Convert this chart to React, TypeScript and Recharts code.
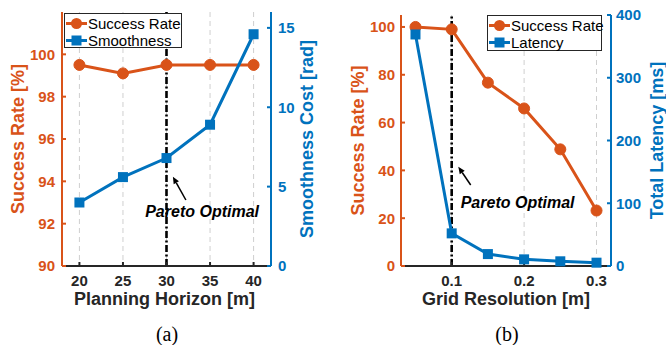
import React from "react";
import {
  LineChart,
  Line,
  XAxis,
  YAxis,
  CartesianGrid,
  ReferenceLine,
  Legend,
} from "recharts";

// (a) planning horizon sweep
const horizons = [20, 25, 30, 35, 40];
const horizonSuccess = [99.5, 99.1, 99.5, 99.5, 99.5];
const horizonSmoothness = [4.0, 5.6, 6.8, 8.9, 14.6];
const horizonTicks = [20, 25, 30, 35, 40];
const successTicksA = [90, 92, 94, 96, 98, 100];
const smoothTicks = [0, 5, 10, 15];

// (b) grid resolution sweep
const resolutions = [0.05, 0.1, 0.15, 0.2, 0.25, 0.3];
const resolutionSuccess = [100, 99.0, 76.7, 65.9, 48.8, 23.2];
const resolutionLatency = [369, 52, 19, 10.6, 7.5, 5.3];
const resolutionTicks = [0.1, 0.2, 0.3];
const successTicksB = [0, 20, 40, 60, 80, 100];
const latencyTicks = [0, 100, 200, 300, 400];

const ORANGE = "#D95319";
const BLUE = "#0072BD";
const DARK = "#262626";
const FONT = "'Liberation Sans', Arial, Helvetica, sans-serif";

const dataA = horizons.map((h, i) => ({
  x: h,
  success: horizonSuccess[i],
  smooth: horizonSmoothness[i],
}));

const dataB = resolutions.map((r, i) => ({
  x: r,
  success: resolutionSuccess[i],
  latency: resolutionLatency[i],
}));

const squareDot = (props: any) => {
  const { cx, cy, index } = props;
  return (
    <rect key={`sq-${index}`} x={cx - 5} y={cy - 5} width={10} height={10} fill={BLUE} />
  );
};

// legend box, rows with line + marker sample
function legendBox(second: string, width: number, height: number) {
  return () => (
    <div
      style={{
        width,
        height,
        boxSizing: "border-box",
        border: "1px solid #262626",
        background: "#fff",
        fontFamily: FONT,
        fontSize: 15,
        color: "#000",
        paddingTop: 1,
      }}
    >
      {[
        { name: "Success Rate", color: ORANGE, shape: "circle" },
        { name: second, color: BLUE, shape: "square" },
      ].map((e) => (
        <div key={e.name} style={{ display: "flex", alignItems: "center", height: 17 }}>
          <svg width={23} height={17} style={{ flex: "none" }}>
            <line x1={1} y1={8.5} x2={22} y2={8.5} stroke={e.color} strokeWidth={3} />
            {e.shape === "circle" ? (
              <circle cx={11.5} cy={8.5} r={5.5} fill={e.color} />
            ) : (
              <rect x={6.5} y={3.5} width={10} height={10} fill={e.color} />
            )}
          </svg>
          <span style={{ lineHeight: "17px", whiteSpace: "nowrap" }}>{e.name}</span>
        </div>
      ))}
    </div>
  );
}

// rotated y-axis title
function yTitle(text: string, color: string, dx: number) {
  return (props: any) => {
    const vb = props.viewBox;
    const cx = vb.x + dx;
    const cy = vb.y + vb.height / 2;
    return (
      <text
        x={cx}
        y={cy}
        transform={`rotate(-90, ${cx}, ${cy})`}
        textAnchor="middle"
        dominantBaseline="central"
        fill={color}
        fontSize={18}
        fontWeight="bold"
        fontFamily={FONT}
      >
        {text}
      </text>
    );
  };
}

function xTitle(text: string, dx: number, baseline: number) {
  return (props: any) => {
    const vb = props.viewBox;
    return (
      <text
        x={vb.x + vb.width / 2 + dx}
        y={vb.y + baseline}
        textAnchor="middle"
        fill={DARK}
        fontSize={18}
        fontWeight="bold"
        fontFamily={FONT}
      >
        {text}
      </text>
    );
  };
}

// "Pareto Optimal" note with arrow, placed relative to the reference line
function paretoNote(tip: [number, number], tail: [number, number], text: [number, number]) {
  return (props: any) => {
    const vb = props.viewBox;
    const tx = vb.x + tip[0];
    const ty = vb.y + tip[1];
    const sx = vb.x + tail[0];
    const sy = vb.y + tail[1];
    const len = Math.hypot(tx - sx, ty - sy);
    const ux = (tx - sx) / len;
    const uy = (ty - sy) / len;
    const L = 7;
    const W = 3;
    const bx = tx - ux * L;
    const by = ty - uy * L;
    const pts = `${tx},${ty} ${bx - uy * W},${by + ux * W} ${bx + uy * W},${by - ux * W}`;
    return (
      <g>
        <line x1={sx} y1={sy} x2={bx} y2={by} stroke="#000" strokeWidth={1.5} />
        <polygon points={pts} fill="#000" />
        <text
          x={vb.x + text[0]}
          y={vb.y + text[1]}
          fontSize={16}
          fontWeight="bold"
          fontStyle="italic"
          fontFamily={FONT}
          fill="#000"
        >
          Pareto Optimal
        </text>
      </g>
    );
  };
}

const axisTick = (color: string) => ({
  fill: color,
  fontSize: 15,
  fontWeight: "bold" as const,
  fontFamily: FONT,
});

const captionStyle = {
  position: "absolute" as const,
  top: 322,
  width: 100,
  textAlign: "center" as const,
  fontFamily: "'Liberation Serif', 'Times New Roman', serif",
  fontSize: 20,
  lineHeight: "24px",
};

export default function App() {
  return (
    <div
      style={{
        position: "absolute",
        left: 0,
        top: 0,
        width: 666,
        height: 345,
        background: "#fff",
        overflow: "hidden",
      }}
    >
      <div style={{ position: "absolute", left: 0, top: 0 }}>
        <LineChart
          width={333}
          height={310}
          data={dataA}
          margin={{ top: 12, right: 0, bottom: 0, left: 0 }}
        >
          <CartesianGrid
            horizontal={false}
            stroke="#cfcfcf"
            strokeDasharray="5 4"
            yAxisId="left"
          />
          <XAxis
            dataKey="x"
            type="number"
            domain={[18, 42]}
            ticks={horizonTicks}
            interval={0}
            height={44}
            stroke={DARK}
            strokeWidth={2}
            tickSize={-4}
            tickMargin={13.5}
            tick={axisTick(DARK)}
            label={xTitle("Planning Horizon [m]", -2, 39)}
          />
          <YAxis
            yAxisId="left"
            domain={[90, 102]}
            ticks={successTicksA}
            interval={0}
            width={62}
            stroke={ORANGE}
            strokeWidth={2}
            tickSize={-4}
            tickMargin={11}
            tick={axisTick(ORANGE)}
            label={yTitle("Success Rate [%]", ORANGE, 18)}
          />
          <YAxis
            yAxisId="right"
            orientation="right"
            domain={[0, 16]}
            ticks={smoothTicks}
            interval={0}
            width={62}
            stroke={BLUE}
            strokeWidth={2}
            tickSize={-4}
            tickMargin={11}
            tick={axisTick(BLUE)}
            label={yTitle("Smoothness Cost [rad]", BLUE, 36)}
          />
          <ReferenceLine
            yAxisId="left"
            x={30}
            stroke="#000"
            strokeWidth={2.6}
            strokeDasharray="7 2.5 2 2.5"
            label={paretoNote([6.4, 164.7], [19.4, 188], [-21.3, 204.7])}
          />
          <Legend
            layout="horizontal"
            verticalAlign="middle"
            align="center"
            content={legendBox("Smoothness", 118, 35)}
            wrapperStyle={{ left: 64, top: 13, width: 118, height: 35 }}
          />
          <Line
            yAxisId="left"
            dataKey="success"
            stroke={ORANGE}
            strokeWidth={3}
            dot={{ r: 5.5, fill: ORANGE, stroke: ORANGE, strokeWidth: 1 }}
            activeDot={false}
            isAnimationActive={false}
          />
          <Line
            yAxisId="right"
            dataKey="smooth"
            stroke={BLUE}
            strokeWidth={3}
            dot={squareDot}
            activeDot={false}
            isAnimationActive={false}
          />
        </LineChart>
      </div>

      <div style={{ position: "absolute", left: 333, top: 0 }}>
        <LineChart
          width={333}
          height={310}
          data={dataB}
          margin={{ top: 15, right: 0, bottom: 0, left: 0 }}
        >
          <CartesianGrid
            horizontal={false}
            stroke="#cfcfcf"
            strokeDasharray="5 4"
            yAxisId="left"
          />
          <XAxis
            dataKey="x"
            type="number"
            domain={[0.03, 0.32]}
            ticks={resolutionTicks}
            interval={0}
            height={44}
            stroke={DARK}
            strokeWidth={2}
            tickSize={-4}
            tickMargin={13.5}
            tick={axisTick(DARK)}
            label={xTitle("Grid Resolution [m]", 0, 39)}
          />
          <YAxis
            yAxisId="left"
            domain={[0, 105]}
            ticks={successTicksB}
            interval={0}
            width={68}
            stroke={ORANGE}
            strokeWidth={2}
            tickSize={-4}
            tickMargin={10}
            tick={axisTick(ORANGE)}
            label={yTitle("Success Rate [%]", ORANGE, 25)}
          />
          <YAxis
            yAxisId="right"
            orientation="right"
            domain={[0, 400]}
            ticks={latencyTicks}
            interval={0}
            width={55}
            stroke={BLUE}
            strokeWidth={2}
            tickSize={-4}
            tickMargin={9}
            tick={axisTick(BLUE)}
            label={yTitle("Total Latency [ms]", BLUE, 45.5)}
          />
          <ReferenceLine
            yAxisId="left"
            x={0.1}
            stroke="#000"
            strokeWidth={2.6}
            strokeDasharray="7 2.5 2 2.5"
            label={paretoNote([6.6, 151.7], [19, 170], [9, 193])}
          />
          <Legend
            layout="horizontal"
            verticalAlign="middle"
            align="center"
            content={legendBox("Latency", 115, 36)}
            wrapperStyle={{ left: 154, top: 15, width: 115, height: 36 }}
          />
          <Line
            yAxisId="left"
            dataKey="success"
            stroke={ORANGE}
            strokeWidth={3}
            dot={{ r: 5.5, fill: ORANGE, stroke: ORANGE, strokeWidth: 1 }}
            activeDot={false}
            isAnimationActive={false}
          />
          <Line
            yAxisId="right"
            dataKey="latency"
            stroke={BLUE}
            strokeWidth={3}
            dot={squareDot}
            activeDot={false}
            isAnimationActive={false}
          />
        </LineChart>
      </div>

      <div style={{ ...captionStyle, left: 117 }}>(a)</div>
      <div style={{ ...captionStyle, left: 457 }}>(b)</div>
    </div>
  );
}
